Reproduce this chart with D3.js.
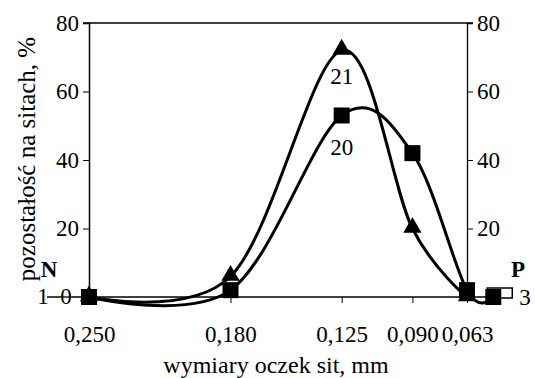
<!DOCTYPE html>
<html>
<head>
<meta charset="utf-8">
<script src="https://cdn.jsdelivr.net/npm/d3@7"></script>
<style>
  body { margin: 0; background: #fff; }
</style>
</head>
<body>
<div id="chart"></div>
<script>
// sieve mesh sizes (mm), last one is the pan (P)
const sizes = [0.250, 0.180, 0.125, 0.090, 0.063, 0.050];
const tickSizes = [0.250, 0.180, 0.125, 0.090, 0.063];
const yTicks = [20, 40, 60, 80];
// residue on sieves, %
const sample20 = [0, 2, 53, 42, 2, 0];
const sample21 = [0, 6, 72, 20, 0];
const seriesLabels = ["20", "21"];

const width = 535, height = 378;
const FONT = "Liberation Serif";
const fs = 23;

const svg = d3.select("#chart").append("svg")
  .attr("width", width)
  .attr("height", height)
  .attr("font-family", FONT);

const x = d3.scaleLinear().domain([0.250, 0.063]).range([89, 467]);
const y = d3.scaleLinear().domain([0, 80]).range([297, 23]);
const fmt = d => d3.format(".3f")(d).replace(".", ",");

function txt(sel) {
  return sel.attr("font-family", FONT).attr("font-size", fs).attr("fill", "#000");
}

// baseline extended to the left "1" and to the pan
svg.append("line")
  .attr("x1", 47).attr("x2", x(sizes[5]) + 10)
  .attr("y1", y(0)).attr("y2", y(0))
  .attr("stroke", "#000").attr("stroke-width", 1.3);

// top border
svg.append("line")
  .attr("x1", 83).attr("x2", 473)
  .attr("y1", y(80)).attr("y2", y(80))
  .attr("stroke", "#000").attr("stroke-width", 1.5);

// left axis
const left = svg.append("g")
  .attr("transform", "translate(" + x(0.250) + ",0)")
  .call(d3.axisLeft(y).tickValues(yTicks).tickSize(6).tickPadding(4));
left.attr("font-family", FONT).attr("font-size", fs);
left.select(".domain").attr("stroke-width", 1.5);
txt(left.selectAll("text"));

// right axis
const right = svg.append("g")
  .attr("transform", "translate(" + x(0.063) + ",0)")
  .call(d3.axisRight(y).tickValues(yTicks).tickSize(6).tickPadding(4));
right.attr("font-family", FONT).attr("font-size", fs);
right.select(".domain").attr("stroke-width", 1.3);
txt(right.selectAll("text"));

// bottom axis
const bottom = svg.append("g")
  .attr("transform", "translate(0," + y(0) + ")")
  .call(d3.axisBottom(x).tickValues(tickSizes).tickFormat(fmt).tickSize(6).tickPadding(23));
bottom.attr("font-family", FONT).attr("font-size", fs);
bottom.select(".domain").remove();
txt(bottom.selectAll("text"));

// zero label on the left, struck by the extended baseline
svg.append("rect").attr("x", 60).attr("y", y(0) - 8).attr("width", 12).attr("height", 16).attr("fill", "#fff");
txt(svg.append("text")).attr("x", 66).attr("y", y(0) + 7).attr("text-anchor", "middle").text("0");
svg.append("line").attr("x1", 60).attr("x2", 72).attr("y1", y(0)).attr("y2", y(0))
  .attr("stroke", "#000").attr("stroke-width", 1.3);

// N / P labels
txt(svg.append("text")).attr("x", 49).attr("y", 277).attr("text-anchor", "middle")
  .attr("font-weight", "bold").text("N");
txt(svg.append("text")).attr("x", 43).attr("y", y(0) + 7).attr("text-anchor", "middle").text("1");
txt(svg.append("text")).attr("x", 518).attr("y", 277).attr("text-anchor", "middle")
  .attr("font-weight", "bold").text("P");
txt(svg.append("text")).attr("x", 525).attr("y", y(0) + 8).attr("text-anchor", "middle").text("3");

// pan box
svg.append("rect")
  .attr("x", x(sizes[5]) - 6).attr("y", y(0) - 9)
  .attr("width", 25).attr("height", 10)
  .attr("fill", "#fff").attr("stroke", "#000").attr("stroke-width", 1.5);

const line = d3.line()
  .x((d, i) => x(sizes[i]))
  .y(d => y(d))
  .curve(d3.curveCardinal.tension(0));

svg.append("path").datum(sample21)
  .attr("d", line).attr("fill", "none")
  .attr("stroke", "#000").attr("stroke-width", 3);
svg.append("path").datum(sample20)
  .attr("d", line).attr("fill", "none")
  .attr("stroke", "#000").attr("stroke-width", 3);

// square markers
svg.selectAll(".sq").data(sample20).enter().append("rect")
  .attr("x", (d, i) => x(sizes[i]) - 8)
  .attr("y", d => y(d) - 8)
  .attr("width", 16).attr("height", 16)
  .attr("fill", "#000");

// triangle markers
const tri = d3.symbol().type(d3.symbolTriangle).size(145);
svg.selectAll(".tri").data(sample21).enter().append("path")
  .attr("d", tri)
  .attr("transform", (d, i) => "translate(" + x(sizes[i]) + "," + (y(d) - 1) + ")")
  .attr("fill", "#000");

// series labels
txt(svg.append("text")).attr("x", x(0.125)).attr("y", y(sample21[2]) + 34)
  .attr("text-anchor", "middle").text(seriesLabels[1]);
txt(svg.append("text")).attr("x", x(0.125)).attr("y", y(sample20[2]) + 40)
  .attr("text-anchor", "middle").text(seriesLabels[0]);

// axis titles
txt(svg.append("text")).attr("x", 276).attr("y", 373).attr("text-anchor", "middle")
  .attr("font-size", 24).text("wymiary oczek sit, mm");
txt(svg.append("text"))
  .attr("transform", "translate(35,159) rotate(-90)")
  .attr("text-anchor", "middle").attr("font-size", 25)
  .text("pozostałość na sitach, %");
</script>
</body>
</html>
